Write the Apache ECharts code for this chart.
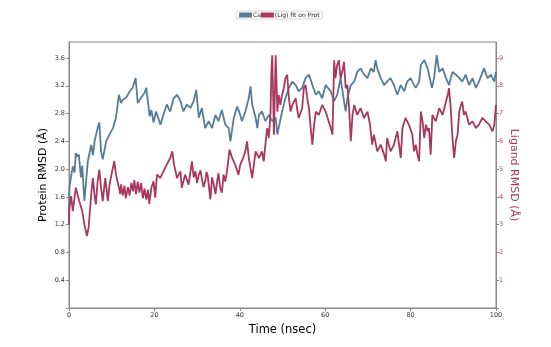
<!DOCTYPE html>
<html><head><meta charset="utf-8">
<script src="https://cdn.jsdelivr.net/npm/echarts@6/dist/echarts.min.js"></script>
<style>html,body{margin:0;padding:0;background:#fff}#c{width:551px;height:347px}</style>
</head><body><div id="c"></div>
<script>
var seriesNames = ['Ca', '(Lig) fit on Prot'];
var xTicks = [0, 20, 40, 60, 80, 100];
var protTime = [0,0.1,0.5,0.9,1.3,1.6,2.0,2.3,2.8,3.1,3.6,4.4,5.2,5.6,6.0,6.7,7.1,7.5,7.9,8.7,9.5,10.3,11.0,11.7,12.2,12.6,13.4,14.2,14.9,15.6,16.1,16.9,17.7,18.1,18.9,19.3,19.8,20.4,21.4,22.1,22.9,23.7,24.5,25.3,26.1,26.8,27.6,28.4,29.2,29.8,30.4,31.1,31.9,32.7,33.5,34.3,35.0,35.8,36.6,37.4,37.8,38.6,39.4,40.1,40.5,41.3,42.1,42.5,42.9,43.7,44.1,44.5,45.2,46.0,46.8,47.6,48.4,48.8,49.1,49.9,50.7,51.5,52.3,53.1,53.8,54.6,55.4,56.2,57.0,57.8,58.5,59.3,60.1,60.5,61.3,62.1,62.8,63.6,64.4,64.8,65.2,66.0,66.8,67.5,68.3,69.1,69.9,70.7,71.4,71.8,72.2,73.0,73.8,74.5,75.3,76.1,76.9,77.7,78.5,79.2,80.0,80.4,81.2,82.0,82.4,83.2,84.0,84.5,85.0,85.5,86.1,86.7,87.5,88.3,89.0,89.8,90.6,91.4,92.1,92.9,93.7,94.5,95.3,96.0,97.2,98.0,98.8,99.6,100];
var protVals = [1.25,1.73,1.90,2.04,1.95,2.23,2.18,2.21,1.88,2.05,1.54,2.11,2.35,2.20,2.40,2.59,2.67,2.26,2.14,2.40,2.50,2.59,2.74,3.07,2.95,3.00,3.03,3.12,3.17,3.31,2.95,3.03,3.10,3.17,2.76,2.85,2.67,2.83,2.64,2.78,2.93,2.83,3.02,3.07,2.98,2.83,2.93,2.88,2.98,3.14,2.74,2.88,2.59,2.69,2.59,2.78,2.69,2.85,2.64,2.59,2.40,2.74,2.90,2.78,2.69,2.83,3.02,3.19,2.93,2.74,2.59,2.78,2.83,2.69,2.78,2.69,2.74,2.50,2.59,2.83,3.02,3.17,3.26,3.21,3.12,3.17,3.31,3.36,3.21,3.07,3.12,3.02,3.21,3.21,3.12,2.98,3.07,3.31,2.98,2.83,3.02,3.21,3.26,3.40,3.45,3.36,3.31,3.45,3.40,3.57,3.45,3.31,3.21,3.26,3.31,3.21,3.07,3.21,3.12,3.26,3.31,3.26,3.17,3.26,3.50,3.57,3.45,3.31,3.17,3.31,3.64,3.40,3.45,3.31,3.21,3.40,3.36,3.31,3.26,3.36,3.21,3.31,3.17,3.26,3.45,3.31,3.36,3.26,3.40];
var ligTime = [0,0.1,0.5,0.9,1.6,2.4,3.1,3.6,4.2,4.6,5.2,5.6,6.0,6.3,6.7,7.1,7.5,7.9,8.5,9.1,9.5,10.1,10.6,11.0,11.7,12.0,12.2,12.6,13.0,13.3,13.8,14.2,14.6,15.0,15.3,15.7,16.1,16.5,16.9,17.3,17.7,18.1,18.5,18.8,19.3,19.8,20.2,20.6,21.4,22.1,22.9,23.7,24.2,24.6,25.3,26.1,26.4,27.2,28.0,28.8,29.2,29.6,30.0,30.4,30.8,31.1,31.5,31.9,32.2,32.5,33.1,33.5,33.9,34.3,34.7,35.0,35.4,35.8,36.2,36.6,37.0,37.6,38.2,38.9,39.7,40.1,40.8,41.3,41.7,42.1,42.5,42.9,43.3,43.7,44.5,45.2,45.6,46.0,46.4,46.8,47.2,47.4,47.6,47.8,48.0,48.4,48.8,49.1,49.5,49.9,50.3,50.7,51.1,51.5,51.9,52.3,53.1,53.4,53.8,54.6,55.0,55.4,55.8,56.2,56.6,57.0,57.4,57.8,58.5,59.3,60.1,60.5,61.3,61.7,62.1,62.4,62.8,63.2,63.6,64.0,64.4,64.8,65.2,65.6,66.0,66.4,66.8,67.5,68.3,69.1,69.9,70.5,71.0,71.4,72.2,73.0,73.8,74.2,74.5,75.3,76.1,76.9,77.7,78.1,78.8,79.6,80.4,80.8,81.2,81.6,82.0,82.4,82.8,83.2,83.6,84.0,84.3,84.7,85.1,85.9,86.7,87.5,88.3,88.7,89.0,89.4,89.8,90.2,90.6,91.0,91.4,91.8,92.1,92.5,92.9,93.7,94.5,95.3,96.0,96.8,97.6,98.4,99.2,99.6,100];
var ligVals = [3.00,3.61,4.03,3.49,4.33,3.85,3.49,3.01,2.59,2.90,4.09,4.68,4.03,3.73,4.56,4.98,4.33,3.85,4.68,3.85,4.44,4.92,5.29,4.80,4.33,4.10,4.45,4.05,4.40,3.95,4.35,4.05,4.50,4.20,4.60,4.10,4.55,4.15,4.50,3.95,4.30,3.90,4.25,3.75,4.33,4.56,3.97,4.80,4.68,4.92,5.16,5.40,5.64,5.16,4.68,4.92,4.33,4.80,4.44,5.28,4.70,4.92,4.50,4.80,4.95,4.68,4.35,4.56,4.90,4.74,3.91,4.70,4.44,4.10,4.56,4.85,4.33,4.15,4.80,4.55,4.92,5.70,5.40,5.16,4.80,5.16,5.40,5.64,6.00,5.40,5.04,4.68,5.16,5.64,5.40,5.64,5.28,5.88,6.48,6.12,7.07,8.51,9.10,7.67,6.24,9.10,7.07,7.67,7.31,7.67,7.91,8.27,8.39,7.55,7.07,7.31,7.55,7.19,6.84,7.19,7.91,8.03,7.55,7.19,6.48,5.88,6.60,7.07,6.95,7.31,7.07,7.07,6.48,6.24,8.92,8.27,8.75,8.92,8.27,8.51,8.86,7.91,8.03,7.19,6.00,6.95,7.31,6.95,7.19,6.84,7.07,6.60,5.88,6.24,5.64,5.88,5.52,5.28,6.12,5.64,5.88,6.36,5.40,6.48,6.84,6.60,6.24,5.64,5.88,5.52,5.28,7.07,6.72,6.12,6.60,6.36,6.48,5.52,6.95,6.72,7.19,6.95,7.43,7.67,7.91,7.19,6.12,5.40,6.00,6.24,7.07,7.31,7.43,6.95,7.07,6.60,6.72,6.48,6.60,6.84,6.72,6.60,6.36,6.60,7.31];

var blue = '#557d99', red = '#a8385f';
function zip(a, b) { return a.map(function (t, i) { return [t, b[i]]; }); }
var font = 'DejaVu Sans';
var chart = echarts.init(document.getElementById('c'), null, {renderer: 'canvas'});
chart.setOption({
  animation: false,
  backgroundColor: '#fff',
  grid: {left: 69, right: 55, top: 42, bottom: 39, show: true, borderColor: '#888', borderWidth: 1},
  legend: {
    top: 11, left: 236, padding: [1, 3], itemGap: 0, itemWidth: 13, itemHeight: 5,
    borderColor: '#ccc', borderWidth: 0.8, borderRadius: 2, backgroundColor: '#fff',
    textStyle: {fontSize: 6, fontFamily: font, color: '#222', padding: [0, 0, 0, -4]},
    data: [{name: seriesNames[0], icon: 'rect'}, {name: seriesNames[1], icon: 'rect'}]
  },
  xAxis: {
    type: 'value', min: 0, max: 100, interval: 20,
    name: 'Time (nsec)', nameLocation: 'middle', nameGap: 15,
    nameTextStyle: {fontSize: 11.5, fontFamily: font, color: '#000'},
    axisLine: {lineStyle: {color: '#888'}},
    axisTick: {length: 3, lineStyle: {color: '#888'}},
    axisLabel: {fontSize: 6.5, fontFamily: font, color: '#333', margin: 4},
    splitLine: {show: false}
  },
  yAxis: [{
    type: 'value', min: 0, max: 3.83, interval: 0.4, position: 'left',
    name: 'Protein RMSD (Å)', nameLocation: 'middle', nameGap: 20, nameRotate: 90,
    nameMoveOverlap: false,
    nameTextStyle: {fontSize: 11, fontFamily: font, color: '#000'},
    axisLine: {show: true, lineStyle: {color: '#888'}},
    axisTick: {show: true, length: 3, lineStyle: {color: '#888'}},
    axisLabel: {fontSize: 6.5, fontFamily: font, color: '#333', margin: 4,
      showMaxLabel: false,
      formatter: function (v) { return v === 0 ? '' : v.toFixed(1); }},
    splitLine: {show: false}
  }, {
    type: 'value', min: 0, max: 9.575, interval: 1, position: 'right',
    name: 'Ligand RMSD (Å)', nameLocation: 'middle', nameGap: 12, nameRotate: -90,
    nameMoveOverlap: false,
    nameTextStyle: {fontSize: 11, fontFamily: font, color: red},
    axisLine: {show: true, lineStyle: {color: '#888'}},
    axisTick: {show: true, length: 3, lineStyle: {color: '#888'}},
    axisLabel: {fontSize: 6.5, fontFamily: font, color: '#b8486e', margin: 3,
      showMaxLabel: false,
      formatter: function (v) { return v === 0 ? '' : String(v); }},
    splitLine: {show: false}
  }],
  series: [{
    name: seriesNames[0], type: 'line', yAxisIndex: 0, showSymbol: false,
    data: zip(protTime, protVals), itemStyle: {color: blue},
    lineStyle: {color: blue, width: 1.8}
  }, {
    name: seriesNames[1], type: 'line', yAxisIndex: 1, showSymbol: false,
    data: zip(ligTime, ligVals), itemStyle: {color: red},
    lineStyle: {color: red, width: 1.8}
  }]
});
</script>
</body></html>
